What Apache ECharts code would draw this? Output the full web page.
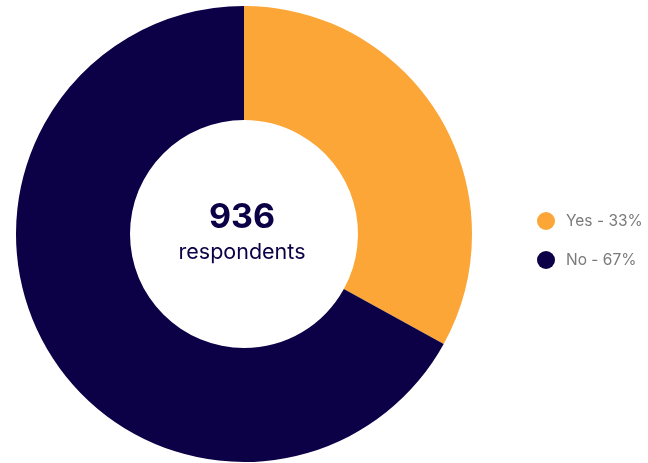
<!DOCTYPE html>
<html>
<head>
<meta charset="utf-8">
<script src="https://cdn.jsdelivr.net/npm/echarts@6/dist/echarts.min.js"></script>
<style>
  html, body { margin: 0; padding: 0; background: #fff; }
  #chart { width: 648px; height: 463px; }
</style>
</head>
<body>
<div id="chart"></div>
<script>
// Survey answers
const categories = ['Yes', 'No'];
const counts = [309, 627];
const percents = [33, 67];
const totalLabel = '936';
const totalCaption = 'respondents';
const colors = ['#FBA637', '#0C0047'];

const chart = echarts.init(document.getElementById('chart'));
const fontFamily = 'Inter, "Noto Sans", sans-serif';

chart.setOption({
  animation: false,
  color: colors,
  legend: {
    orient: 'vertical',
    left: 532,
    top: 207,
    icon: 'circle',
    itemWidth: 18,
    itemHeight: 18,
    itemGap: 21,
    data: categories,
    formatter: name => name + ' - ' + percents[categories.indexOf(name)] + '%',
    textStyle: { color: '#7a7a7a', fontSize: 15.5, fontFamily: fontFamily, padding: [0, 0, 0, 6] }
  },
  graphic: [
    {
      type: 'text', x: 242, y: 218,
      style: { text: totalLabel, fill: '#0C0047', font: 'bold 34px ' + fontFamily, textAlign: 'center', textVerticalAlign: 'middle' }
    },
    {
      type: 'text', x: 242, y: 253,
      style: { text: totalCaption, fill: '#0C0047', font: '21.5px ' + fontFamily, textAlign: 'center', textVerticalAlign: 'middle' }
    }
  ],
  series: [{
    type: 'pie',
    center: [244, 234],
    radius: [114, 228],
    startAngle: 90,
    clockwise: true,
    label: { show: false },
    labelLine: { show: false },
    emphasis: { disabled: true },
    data: categories.map((c, i) => ({ name: c, value: counts[i] }))
  }]
});
</script>
</body>
</html>
